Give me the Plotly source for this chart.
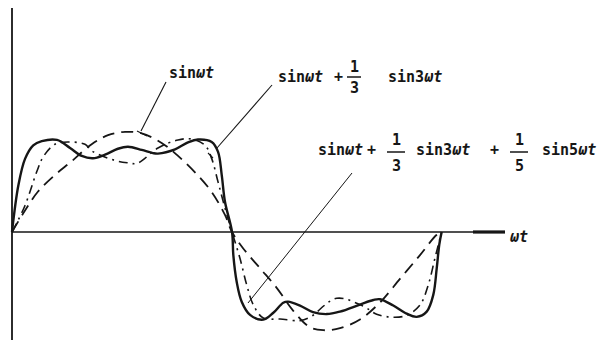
import plotly.graph_objects as go

# Partial Fourier sums of a square wave.
# wt in degrees, amplitude in units of the fundamental's peak.

# sin(wt)
wt_1 = [0, 10.9, 21.8, 36.0, 50.0, 66.7, 80.4, 94.6, 108.6, 125.3, 139.0, 153.2,
        167.2, 178.3, 184.2, 193.6, 207.6, 221.6, 235.5, 249.5, 260.6, 274.6,
        291.3, 308.1, 324.8, 341.6, 355.6, 359.7]
y_1 = [0, 0.217, 0.409, 0.577, 0.715, 0.887, 0.978, 1.011, 0.997, 0.900, 0.769,
       0.603, 0.404, 0.172, 0, -0.166, -0.365, -0.564, -0.796, -0.962, -0.992,
       -0.972, -0.884, -0.712, -0.473, -0.233, -0.028, 0]

# sin(wt) + 1/3 sin(3wt)
wt_3 = [0, 10.9, 20.7, 26.2, 36.0, 46.9, 61.1, 66.7, 86.2, 97.1, 104.7, 122.2,
        139.0, 150.4, 161.6, 167.2, 172.5, 178.3, 184.2, 190.9, 196.5, 202.0,
        210.4, 224.4, 241.1, 249.5, 271.8, 293.9, 305.3, 319.2, 330.4, 341.6,
        348.5, 354.1, 359.7]
y_3 = [0, 0.268, 0.608, 0.761, 0.887, 0.909, 0.886, 0.820, 0.723, 0.699, 0.693,
       0.848, 0.930, 0.939, 0.875, 0.741, 0.506, 0.242, 0, -0.268, -0.534,
       -0.735, -0.869, -0.879, -0.895, -0.861, -0.670, -0.749, -0.830, -0.861,
       -0.842, -0.738, -0.535, -0.264, 0]

# sin(wt) + 1/3 sin(3wt) + 1/5 sin(5wt)
wt_5 = [0, 5.3, 10.9, 17.8, 24.9, 37.7, 48.6, 58.4, 67.8, 77.9, 88.7, 97.1,
        108.6, 118.0, 122.2, 136.5, 147.3, 155.7, 167.2, 172.5, 175.6, 178.3,
        184.2, 185.3, 188.1, 192.3, 199.3, 210.4, 218.8, 227.1, 231.1, 241.1,
        252.0, 263.5, 274.6, 291.3, 302.5, 308.1, 319.2, 330.4, 338.8, 347.2,
        352.7, 355.6, 357.7, 359.7]
y_5 = [0, 0.469, 0.739, 0.876, 0.918, 0.930, 0.849, 0.768, 0.745, 0.782, 0.841,
       0.861, 0.829, 0.797, 0.792, 0.835, 0.905, 0.934, 0.909, 0.809, 0.575,
       0.306, 0, -0.234, -0.503, -0.704, -0.837, -0.885, -0.816, -0.714, -0.703,
       -0.743, -0.809, -0.829, -0.804, -0.733, -0.687, -0.679, -0.743, -0.825,
       -0.857, -0.804, -0.635, -0.365, -0.129, 0]

INK = "#161616"
W, H = 599, 340

# axis scaling: wt = 0 sits 12 px from the left edge, one period spans 430 px,
# the baseline is 232 px from the top and one unit of amplitude is 99 px
X0, PX_PER_DEG = 12, 430 / 360
Y0, PX_PER_UNIT = 232, 99
x_range = [-X0 / PX_PER_DEG, (W - X0) / PX_PER_DEG]
y_range = [-(H - Y0) / PX_PER_UNIT, Y0 / PX_PER_UNIT]


def dx(px):
    return (px - X0) / PX_PER_DEG


def dy(py):
    return (Y0 - py) / PX_PER_UNIT


fig = go.Figure()

fig.add_trace(go.Scatter(x=wt_1, y=y_1, mode="lines", line_shape="spline",
                         line=dict(color=INK, width=1.8, dash="12px,7px"),
                         hoverinfo="skip"))
fig.add_trace(go.Scatter(x=wt_3, y=y_3, mode="lines", line_shape="spline",
                         line=dict(color=INK, width=1.6, dash="9px,5px,2px,5px"),
                         hoverinfo="skip"))
fig.add_trace(go.Scatter(x=wt_5, y=y_5, mode="lines", line_shape="spline",
                         line=dict(color=INK, width=2.4),
                         hoverinfo="skip"))


def seg(x0, y0, x1, y1, w=1.2):
    fig.add_shape(type="line", xref="x", yref="y", x0=dx(x0), y0=dy(y0),
                  x1=dx(x1), y1=dy(y1), line=dict(color=INK, width=w))


# coordinate axes
seg(12, 8, 12, 340, 1.8)
seg(12, 232, 505, 232, 1.6)
seg(473, 232, 505, 232, 3.2)

# leader lines from the labels to the curves
seg(166, 82, 141, 131, 1.1)
seg(137, 131, 147, 136, 1.1)
seg(272, 85, 217, 148, 1.1)
seg(208, 153, 213, 158, 1.1)
seg(352, 173, 248, 303, 1.0)

FONT = "DejaVu Sans Mono"


def txt(px, py, s, size=15, anchor="left"):
    fig.add_annotation(x=dx(px), y=dy(py), xref="x", yref="y",
                       text="<b>" + s + "</b>",
                       showarrow=False, xanchor=anchor, yanchor="middle",
                       font=dict(family=FONT, size=size, color=INK))


def frac(pxc, py_num, py_den, py_bar, num, den, half, size=15):
    txt(pxc, py_num, num, size, "center")
    txt(pxc, py_den, den, size, "center")
    seg(pxc - half, py_bar, pxc + half, py_bar, 1.5)


# sin(wt)
txt(167, 73, "sin<i>ωt</i>", 15)

# sin(wt) + 1/3 sin(3wt)
txt(276, 77, "sin<i>ωt</i>", 15)
txt(338, 77, "+", 15, "center")
frac(354, 67, 88, 77, "1", "3", 7, 15)
txt(386, 77, "sin3<i>ωt</i>", 15)

# sin(wt) + 1/3 sin(3wt) + 1/5 sin(5wt)
txt(316, 150, "sin<i>ωt</i>", 15)
txt(371, 150, "+", 15, "center")
frac(396, 140, 166, 152, "1", "3", 9, 15)
txt(414, 150, "sin3<i>ωt</i>", 15)
txt(494, 150, "+", 15, "center")
frac(519, 140, 166, 152, "1", "5", 9, 15)
txt(540, 150, "sin5<i>ωt</i>", 15)

# horizontal axis label
txt(508, 237, "<i>ωt</i>", 15)

fig.update_layout(
    width=W, height=H,
    margin=dict(l=0, r=0, t=0, b=0),
    paper_bgcolor="white", plot_bgcolor="white",
    showlegend=False,
    xaxis=dict(range=x_range, visible=False, fixedrange=True),
    yaxis=dict(range=y_range, visible=False, fixedrange=True),
)

fig.write_html("out.html")
